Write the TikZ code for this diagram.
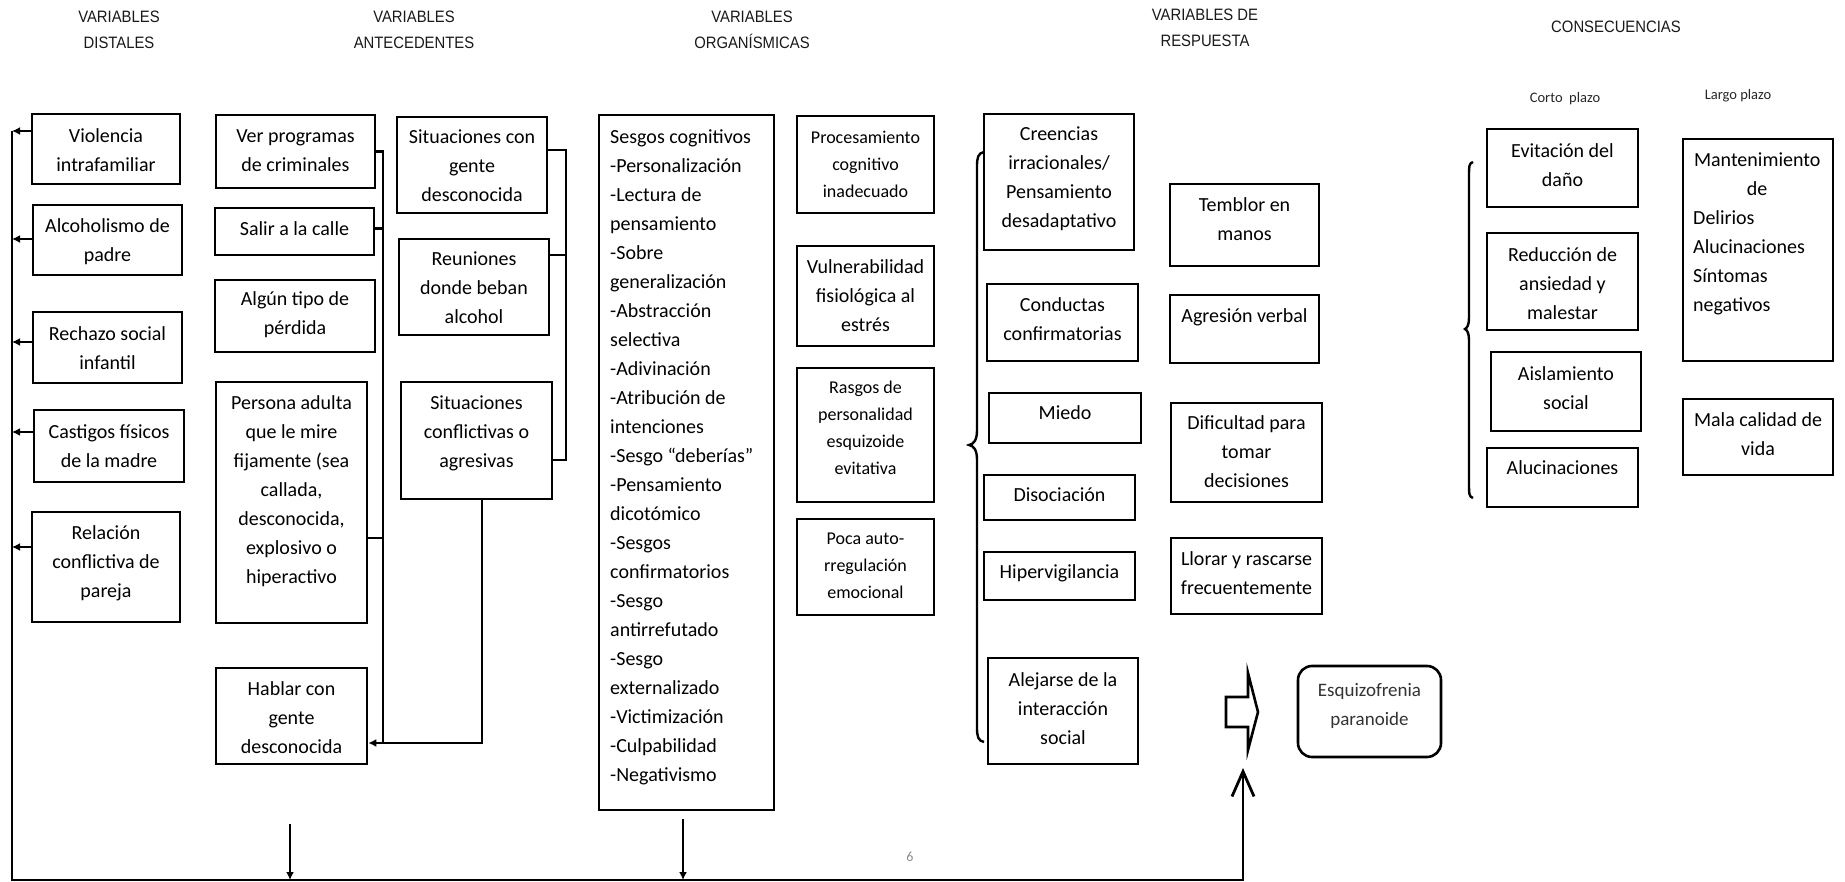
\documentclass[tikz,border=0pt]{standalone}
\usepackage{fontspec}
\setmainfont{Carlito}
\newfontfamily\ttlfont[FakeStretch=0.9]{Liberation Sans}
\usetikzlibrary{fit,arrows.meta}
\tikzset{
  bx/.style={draw=black, line width=2.6pt, inner sep=0pt, fill=white},
  tx/.style={font=\fontsize{20}{29}\selectfont, align=center, inner sep=0pt, text=black},
  txs/.style={font=\fontsize{18}{27}\selectfont, align=center, inner sep=0pt, text=black},
  ttl/.style={font=\ttlfont\fontsize{16.5}{26}\selectfont, align=center, inner sep=0pt, text=black!90},
  sml/.style={font=\fontsize{14.5}{18}\selectfont, inner sep=0pt, text=black!85},
  ln/.style={line width=2.3pt},
  arr/.style={line width=2.3pt, -{Latex[length=8pt,width=8pt]}},
}
\newcommand\bxn[5]{\node[bx, fit={(#2,#3) (#4,#5)}] (#1) {};}
\begin{document}
\begin{tikzpicture}[x=1pt,y=-1pt]
\useasboundingbox (0,0) rectangle (1845,882);

% ---------- titles ----------
\node[ttl] (t1) at (119,30) {VARIABLES\\DISTALES};
\node[ttl] (t2) at (414,30) {VARIABLES\\ANTECEDENTES};
\node[ttl] (t3) at (752,30) {VARIABLES\\ORGANÍSMICAS};
\node[ttl] (t4) at (1205,27.5) {VARIABLES DE\\RESPUESTA};
\node[ttl] (t5) at (1616,27) {CONSECUENCIAS};
\node[sml] (t6) at (1565,99) {Corto\ \ plazo};
\node[sml] (t7) at (1738,96) {Largo plazo};

% ---------- distal ----------
\bxn{viol}{32}{114}{180}{184}
\node[tx] (violt) at (106,150.5) {Violencia\\intrafamiliar};
\bxn{alco}{33}{205}{182}{275}
\node[tx] (alcot) at (107.5,242) {Alcoholismo de\\padre};
\bxn{rech}{33}{312}{182}{383}
\node[tx] (recht) at (107.5,348) {Rechazo social\\infantil};
\bxn{cast}{34}{410}{184}{482}
\node[tx] (castt) at (109,446) {Castigos físicos\\de la madre};
\bxn{rela}{32}{512}{180}{622}
\node[tx] (relat) at (106,563) {Relación\\conflictiva de\\pareja};

% ---------- antecedentes ----------
\bxn{verp}{216}{115}{375}{188}
\node[tx] (verpt) at (295.5,151) {Ver programas\\de criminales};
\bxn{sali}{215}{208}{374}{255}
\node[tx] (salit) at (294.5,229) {Salir a la calle};
\bxn{algu}{215}{280}{375}{352}
\node[tx] (algut) at (295,315) {Algún tipo de\\pérdida};
\bxn{pers}{216}{382}{367}{623}
\node[tx] (perst) at (291.5,491) {Persona adulta\\que le mire\\fijamente (sea\\callada,\\desconocida,\\explosivo o\\hiperactivo};
\bxn{habl}{216}{668}{367}{764}
\node[tx] (hablt) at (291.5,718) {Hablar con\\gente\\desconocida};
\bxn{sitg}{397}{117}{547}{213}
\node[tx] (sitgt) at (472,166) {Situaciones con\\gente\\desconocida};
\bxn{reun}{399}{239}{549}{335}
\node[tx] (reunt) at (474,288) {Reuniones\\donde beban\\alcohol};
\bxn{sitc}{401}{382}{552}{499}
\node[tx] (sitct) at (476.5,433) {Situaciones\\conflictivas o\\agresivas};

% ---------- organismicas ----------
\bxn{sesg}{599}{115}{774}{810}
\node[tx, align=left, anchor=west] (sesgt) at (610,457.5) {Sesgos cognitivos\\-Personalización\\-Lectura de\\pensamiento\\-Sobre\\generalización\\-Abstracción\\selectiva\\-Adivinación\\-Atribución de\\intenciones\\-Sesgo “deberías”\\-Pensamiento\\dicotómico\\-Sesgos\\confirmatorios\\-Sesgo\\antirrefutado\\-Sesgo\\externalizado\\-Victimización\\-Culpabilidad\\-Negativismo};
\bxn{proc}{797}{116}{934}{213}
\node[txs] (proct) at (865.5,164) {Procesamiento\\cognitivo\\inadecuado};
\bxn{vuln}{797}{246}{934}{346}
\node[tx] (vulnt) at (865.5,296) {Vulnerabilidad\\fisiológica al\\estrés};
\bxn{rasg}{797}{368}{934}{502}
\node[txs] (rasgt) at (865.5,427.5) {Rasgos de\\personalidad\\esquizoide\\evitativa};
\bxn{poca}{797}{519}{934}{615}
\node[txs] (pocat) at (865.5,566) {Poca auto-\\rregulación\\emocional};

% ---------- respuesta ----------
\bxn{cree}{984}{114}{1134}{250}
\node[tx] (creet) at (1059,178.5) {Creencias\\irracionales/\\Pensamiento\\desadaptativo};
\bxn{cond}{987}{284}{1138}{361}
\node[tx] (condt) at (1062.5,319) {Conductas\\confirmatorias};
\bxn{mied}{989}{393}{1141}{443}
\node[tx] (miedt) at (1065,413) {Miedo};
\bxn{diso}{984}{475}{1135}{520}
\node[tx] (disot) at (1059.5,495) {Disociación};
\bxn{hipe}{984}{552}{1135}{600}
\node[tx] (hipet) at (1059.5,573) {Hipervigilancia};
\bxn{alej}{988}{658}{1138}{764}
\node[tx] (alejt) at (1063,708.5) {Alejarse de la\\interacción\\social};
\bxn{temb}{1170}{184}{1319}{266}
\node[tx] (tembt) at (1244.5,219) {Temblor en\\manos};
\bxn{agre}{1170}{295}{1319}{363}
\node[tx] (agret) at (1244.5,317) {Agresión verbal};
\bxn{difi}{1171}{403}{1322}{502}
\node[tx] (difit) at (1246.5,452) {Dificultad para\\tomar\\decisiones};
\bxn{llor}{1171}{538}{1322}{614}
\node[tx] (llort) at (1246.5,573.5) {Llorar y rascarse\\frecuentemente};

% ---------- consecuencias ----------
\bxn{evit}{1487}{129}{1638}{207}
\node[tx] (evitt) at (1562.5,165.5) {Evitación del\\daño};
\bxn{redu}{1487}{233}{1638}{330}
\node[tx] (redut) at (1562.5,284) {Reducción de\\ansiedad y\\malestar};
\bxn{aisl}{1491}{352}{1641}{431}
\node[tx] (aislt) at (1566,388.5) {Aislamiento\\social};
\bxn{aluc}{1487}{448}{1638}{507}
\node[tx] (aluct) at (1562.5,468) {Alucinaciones};
\bxn{mant}{1683}{139}{1833}{361}
\node[tx, align=left, text width=128pt, anchor=west] (mantt) at (1693,234) {\hfill Mantenimiento\hfill\null\\\hfill de\hfill\null\\Delirios\\Alucinaciones\\Síntomas\\negativos};
\bxn{mala}{1683}{399}{1833}{475}
\node[tx] (malat) at (1758,434.5) {Mala calidad de\\vida};

% ---------- outcome ----------
\node[bx, rounded corners=14pt, fit={(1298,666) (1441,757)}] (esqz) {};
\node[font=\fontsize{19}{29}\selectfont, align=center, inner sep=0pt, text=black!80] (esqzt) at (1369.5,706) {Esquizofrenia\\paranoide};
\draw[line width=2.6pt, line join=miter] (1226,697) -- (1248,697) -- (1248,673) -- (1258,712) -- (1248,750) -- (1248,727) -- (1226,727) -- cycle;

% ---------- braces ----------
\draw[line width=2.4pt] (984,152) .. controls (978,153) and (977,158) .. (977,166) -- (977,430)
  .. controls (977,440) and (974,444) .. (969,445) .. controls (974,446) and (977,450) .. (977,460)
  -- (977,728) .. controls (977,736) and (978,741) .. (984,742);
\draw[line width=2.4pt] (1473,162) .. controls (1469,163) and (1469,167) .. (1469,174) -- (1469,318)
  .. controls (1469,325) and (1467,328) .. (1465,329) .. controls (1467,330) and (1469,333) .. (1469,340)
  -- (1469,486) .. controls (1469,493) and (1469,497) .. (1473,498);

% ---------- coordinates ----------
\coordinate (L1) at (12,131);
\coordinate (BL) at (12,880);
\coordinate (BR) at (1243,880);
\coordinate (UP) at (1243,768);
\coordinate (J1) at (383,743);
\coordinate (K2) at (566,460);
\coordinate (D1) at (290,824);
\coordinate (D1b) at (290,880);
\coordinate (D2) at (683,819);
\coordinate (D2b) at (683,880);

% ---------- main feedback line ----------
\draw[line width=2.8pt, -{Straight Barb[length=25pt,width=22pt]}] (L1) -- (BL) -- (BR) -- (UP);

% ---------- distal arrows ----------
\path ([yshift=18pt]viol.west) coordinate (a1)
      ([yshift=1pt]alco.west) coordinate (a2)
      ([yshift=5.5pt]rech.west) coordinate (a3)
      ([yshift=14pt]cast.west) coordinate (a4)
      ([yshift=20pt]rela.west) coordinate (a5);
\foreach \p in {a1,a2,a3,a4,a5} \draw[arr] (\p) -- (\p -| BL);

% ---------- antecedentes connectors ----------
\draw[ln] (verp.east) -| (J1);
\path ([yshift=3pt]sali.east) coordinate (b2)
      ([yshift=-35.5pt]pers.east) coordinate (b3);
\draw[ln] (b2) -- (b2 -| J1);
\draw[ln] (b3) -- (b3 -| J1);
\draw[arr] ([xshift=5.5pt]sitc.south) |- ([yshift=-27pt]habl.east);

\path ([yshift=15pt]sitg.east) coordinate (c1)
      ([yshift=32pt]reun.east) coordinate (c2)
      ([yshift=-19.5pt]sitc.east) coordinate (c3);
\draw[ln] (c1) -| (K2) -- (c3);
\draw[ln] (c2) -- (c2 -| K2);

% ---------- down arrows to feedback line ----------
\draw[arr] (D1) -- (D1b);
\draw[arr] (D2) -- (D2b);

% ---------- page number ----------
\node[font=\fontsize{14}{16}\selectfont, text=black!45, inner sep=0pt] (pg) at (910,857) {6};
\end{tikzpicture}
\end{document}
